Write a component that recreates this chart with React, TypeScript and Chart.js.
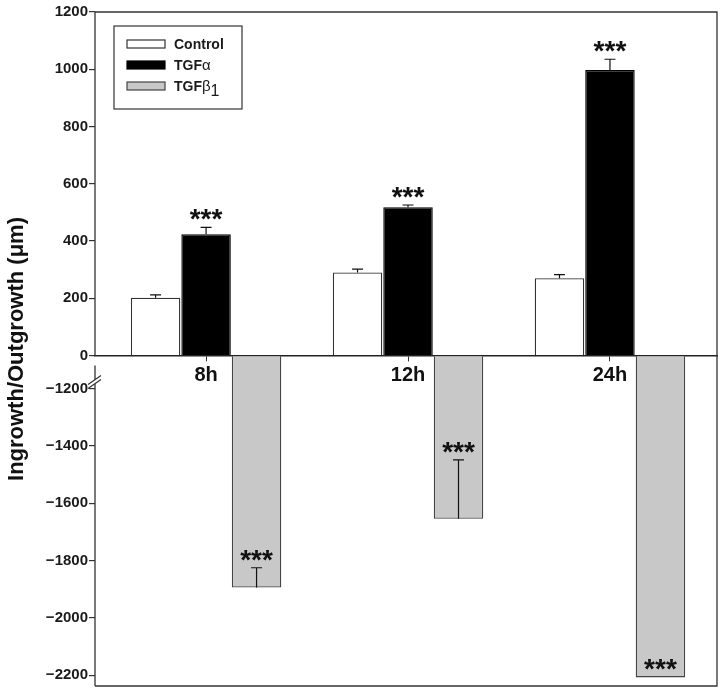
import React, { useEffect, useRef } from "react";
import { Chart, registerables } from "chart.js";

Chart.register(...registerables);

// ---------- data ----------
const CATEGORIES = ["8h", "12h", "24h"];
const SERIES_NAMES = ["Control", "TGFα", "TGFβ1"];
const CONTROL = [202, 290, 270];
const CONTROL_ERR = [10, 12, 13];
const TGF_ALPHA = [424, 518, 997];
const TGF_ALPHA_ERR = [24, 8, 38];
const TGF_BETA1 = [-1894, -1654, -2208];
const TGF_BETA1_ERR = [69, 206, 0];
const CONTROL_SIG = ["", "", ""];
const TGF_ALPHA_SIG = ["***", "***", "***"];
const TGF_BETA1_SIG = ["***", "***", "***"];
const Y_TICKS = [-2200, -2000, -1800, -1600, -1400, -1200, 0, 200, 400, 600, 800, 1000, 1200];
const Y_MAX = 1200;
const Y_MIN = -2238;
// units hidden by the axis break between 0 and -1200
const BREAK_HIDDEN = 1084;

const VALUES = [CONTROL, TGF_ALPHA, TGF_BETA1];
const ERRORS = [CONTROL_ERR, TGF_ALPHA_ERR, TGF_BETA1_ERR];
const SIGS = [CONTROL_SIG, TGF_ALPHA_SIG, TGF_BETA1_SIG];
const FILLS = ["#ffffff", "#000000", "#c8c8c8"];
const BORDERS = ["#333333", "#000000", "#444444"];

const FONT = "'Liberation Sans', Arial, Helvetica, sans-serif";

const toAxis = (v: number) => (v < 0 ? v + BREAK_HIDDEN : v);
const fromAxis = (a: number) => (a < 0 ? a - BREAK_HIDDEN : a);

function drawRich(ctx: CanvasRenderingContext2D, text: string, x: number, y: number) {
  let cx = x;
  let prevGreek = false;
  for (const ch of text) {
    const isGreek = /[\u0370-\u03ff]/.test(ch);
    const isDigit = /[0-9]/.test(ch);
    let dy = 0;
    if (isGreek) {
      ctx.font = `15px ${FONT}`;
    } else if (isDigit && prevGreek) {
      ctx.font = `16px ${FONT}`;
      dy = 5;
    } else {
      ctx.font = `bold 14px ${FONT}`;
    }
    ctx.fillText(ch, cx, y + dy);
    cx += ctx.measureText(ch).width;
    prevGreek = isGreek || (isDigit && prevGreek);
  }
}

const overlayPlugin = {
  id: "overlay",
  afterDatasetsDraw(chart: any) {
    const ctx: CanvasRenderingContext2D = chart.ctx;
    const ys = chart.scales.y;
    ctx.save();
    VALUES.forEach((vals, di) => {
      const meta = chart.getDatasetMeta(di);
      meta.data.forEach((el: any, j: number) => {
        const v = vals[j];
        const e = ERRORS[di][j];
        const x = el.x;
        const y1 = ys.getPixelForValue(toAxis(v));
        let anchor = y1;
        if (e) {
          const y2 = ys.getPixelForValue(toAxis(v + e));
          ctx.strokeStyle = "#111";
          ctx.lineWidth = 1.2;
          ctx.beginPath();
          ctx.moveTo(x, y1);
          ctx.lineTo(x, y2);
          ctx.moveTo(x - 5.5, y2);
          ctx.lineTo(x + 5.5, y2);
          ctx.stroke();
          anchor = y2;
        }
        const s = SIGS[di][j];
        if (s) {
          ctx.fillStyle = "#111";
          ctx.font = `bold 28px ${FONT}`;
          ctx.textAlign = "center";
          ctx.textBaseline = "alphabetic";
          ctx.fillText(s, x, anchor + 1);
        }
      });
    });
    ctx.restore();
  },
  afterDraw(chart: any) {
    const ctx: CanvasRenderingContext2D = chart.ctx;
    const { left, right, top, bottom } = chart.chartArea;
    const y0 = chart.scales.y.getPixelForValue(0);
    ctx.save();
    ctx.strokeStyle = "#333";
    ctx.lineWidth = 1.3;
    ctx.beginPath();
    // frame top / right / bottom
    ctx.moveTo(left, top);
    ctx.lineTo(right, top);
    ctx.lineTo(right, bottom);
    ctx.lineTo(left, bottom);
    // left axis with break
    ctx.moveTo(left, top);
    ctx.lineTo(left, y0);
    ctx.moveTo(left, y0 + 10);
    ctx.lineTo(left, bottom);
    ctx.stroke();
    // break marks
    const by = y0 + 29;
    ctx.fillStyle = "#fff";
    ctx.beginPath();
    ctx.moveTo(left - 7, by);
    ctx.lineTo(left + 6, by - 9);
    ctx.lineTo(left + 6, by - 5);
    ctx.lineTo(left - 7, by + 4);
    ctx.closePath();
    ctx.fill();
    ctx.lineWidth = 1.2;
    ctx.beginPath();
    ctx.moveTo(left - 7, by);
    ctx.lineTo(left + 6, by - 9);
    ctx.moveTo(left - 7, by + 4);
    ctx.lineTo(left + 6, by - 5);
    ctx.stroke();

    // legend
    const lx = left + 19;
    const ly = top + 14;
    const lw = 128;
    const lh = 83;
    ctx.fillStyle = "#fff";
    ctx.fillRect(lx, ly, lw, lh);
    ctx.strokeStyle = "#333";
    ctx.lineWidth = 1.2;
    ctx.strokeRect(lx, ly, lw, lh);
    SERIES_NAMES.forEach((name, i) => {
      const cy = ly + 18 + i * 21;
      ctx.fillStyle = FILLS[i];
      ctx.fillRect(lx + 13, cy - 4, 38, 8);
      ctx.strokeStyle = BORDERS[i];
      ctx.lineWidth = 1.2;
      ctx.strokeRect(lx + 13, cy - 4, 38, 8);
      ctx.fillStyle = "#1a1a1a";
      ctx.textAlign = "left";
      ctx.textBaseline = "alphabetic";
      drawRich(ctx, name, lx + 60, cy + 5);
    });
    ctx.restore();
  },
};

export default function App() {
  const ref = useRef<HTMLCanvasElement>(null);
  useEffect(() => {
    const canvas = ref.current;
    if (!canvas) return;
    const chart = new Chart(canvas, {
      type: "bar",
      data: {
        datasets: VALUES.map((vals, i) => ({
          label: SERIES_NAMES[i],
          data: vals.map((v, j) => ({ x: j, y: toAxis(v) })),
          backgroundColor: FILLS[i],
          borderColor: BORDERS[i],
          borderWidth: 1.3,
          categoryPercentage: 0.75,
          barPercentage: 0.98,
        })),
      },
      options: {
        animation: false,
        responsive: false,
        devicePixelRatio: 1,
        layout: { padding: { top: 12, right: 3, bottom: 7, left: 0 } },
        plugins: {
          legend: { display: false },
          tooltip: { enabled: false },
        },
        events: [],
        scales: {
          x: {
            type: "linear",
            position: { y: 0 },
            min: -0.55,
            max: 2.53,
            offset: false,
            afterBuildTicks: (s: any) => {
              s.ticks = CATEGORIES.map((_, i) => ({ value: i }));
            },
            ticks: {
              callback: (v: any) => CATEGORIES[v] ?? "",
              font: { family: FONT, size: 20, weight: "bold" },
              color: "#111",
              padding: 3,
              autoSkip: false,
              maxRotation: 0,
            },
            grid: {
              offset: false,
              drawOnChartArea: false,
              drawTicks: true,
              tickLength: 5,
              color: "#333",
              lineWidth: 1,
            },
            border: { display: true, color: "#222", width: 1.4 },
          },
          y: {
            type: "linear",
            min: toAxis(Y_MIN),
            max: Y_MAX,
            afterBuildTicks: (s: any) => {
              s.ticks = Y_TICKS.map((v) => ({ value: toAxis(v) }));
            },
            afterFit: (s: any) => {
              s.width = 95;
            },
            ticks: {
              callback: (v: any) => {
                const r = fromAxis(Number(v));
                return r < 0 ? "\u2212" + Math.abs(r) : String(r);
              },
              font: { family: FONT, size: 15, weight: "bold" },
              color: "#1a1a1a",
              padding: 1,
              autoSkip: false,
            },
            grid: { drawOnChartArea: false, drawTicks: true, tickLength: 6, color: "#333", lineWidth: 1.2 },
            border: { display: false },
            title: {
              display: true,
              text: "Ingrowth/Outgrowth (μm)",
              font: { family: FONT, size: 22, weight: "bold" },
              color: "#111",
            },
          },
        },
      },
      plugins: [overlayPlugin],
    } as any);
    return () => chart.destroy();
  }, []);
  return (
    <div style={{ position: "fixed", left: 0, top: 0, width: 720, height: 696, background: "#fff" }}>
      <canvas ref={ref} width={720} height={696} style={{ display: "block" }} />
    </div>
  );
}
